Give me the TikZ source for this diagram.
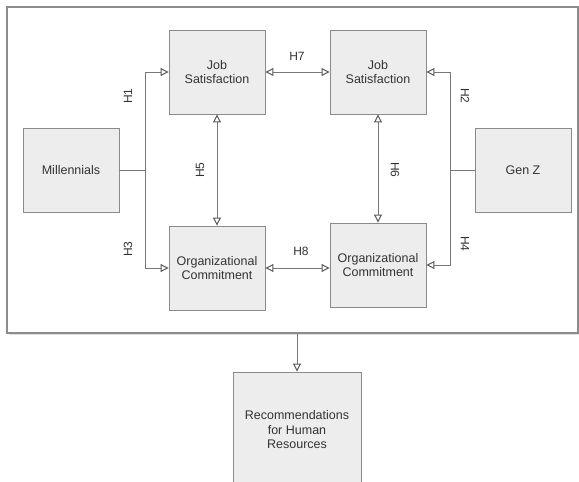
\documentclass[tikz,border=0pt]{standalone}
\usepackage{fontspec}
\setmainfont{Liberation Sans}
\usetikzlibrary{arrows.meta}
\definecolor{boxfill}{HTML}{EDEDED}
\definecolor{boxline}{HTML}{8A8A8A}
\definecolor{lin}{HTML}{777777}
\definecolor{txt}{HTML}{333333}
\definecolor{framec}{HTML}{8C8C8C}
\begin{document}
\begin{tikzpicture}[x=1pt,y=-1pt,
 box/.style={draw=boxline, fill=boxfill, line width=0.9pt, minimum width=96pt, minimum height=84pt, inner sep=0pt, align=center, font=\fontsize{12.5}{14.5}\selectfont, text=txt},
 conn/.style={draw=lin, line width=0.8pt},
 tip/.style={-{Triangle[open,length=8pt,width=8pt,line width=1pt,color=black!65]}},
 both/.style={{Triangle[open,length=8pt,width=8pt,line width=1pt,color=black!65]}-{Triangle[open,length=8pt,width=8pt,line width=1pt,color=black!65]}},
 lab/.style={font=\fontsize{12}{14}\selectfont, text=txt, inner sep=0pt},
 framebox/.style={draw=framec, line width=1.1pt, minimum width=571pt, minimum height=326pt, inner sep=0pt}]
\useasboundingbox (0,0) rectangle (579,482);
\clip (0,0) rectangle (579,482);
% frame with light shadow
\fill[black!12] (8.5,8.5) rectangle (580,335);
\node[framebox, fill=white] (frame) at (292.5,170) {};
% boxes
\node[box] (js1) at (217,72) {Job\\Satisfaction};
\node[box] (mil) at (71,170) {Millennials};
\node[box] (oc1) at (217,268) {Organizational\\Commitment};
\node[box] (js2) at (378,72) {Job\\Satisfaction};
\node[box] (genz) at (523,170) {Gen Z};
\node[box] (oc2) at (378,265) {Organizational\\Commitment};
\node[box, minimum width=128pt, minimum height=116pt] (rec) at (297,430) {Recommendations\\for Human\\Resources};
% connectors
\coordinate (m1) at (145,170);
\coordinate (g1) at (450,170);
\draw[conn] (mil.east) -- (m1);
\draw[conn,tip] (m1) |- (js1.west);
\draw[conn,tip] (m1) |- (oc1.west);
\draw[conn] (genz.west) -- (g1);
\draw[conn,tip] (g1) |- (js2.east);
\draw[conn,tip] (g1) |- (oc2.east);
\draw[conn,both] (js1.south) -- (oc1.north);
\draw[conn,both] (js2.south) -- (oc2.north);
\draw[conn,both] (js1.east) -- (js2.west);
\draw[conn,both] (oc1.east) -- (oc1.east -| oc2.west);
\draw[conn,tip] (frame.south -| rec.north) -- (rec.north);
% labels
\node[lab, rotate=90] (h1) at (128,96) {H1};
\node[lab, rotate=90] (h3) at (128,249) {H3};
\node[lab, rotate=90] (h5) at (200,170) {H5};
\node[lab, rotate=-90] (h2) at (465,96) {H2};
\node[lab, rotate=-90] (h6) at (395,170) {H6};
\node[lab, rotate=-90] (h4) at (465,244) {H4};
\node[lab] (h7) at (297,56) {H7};
\node[lab] (h8) at (301,251) {H8};
\end{tikzpicture}
\end{document}
